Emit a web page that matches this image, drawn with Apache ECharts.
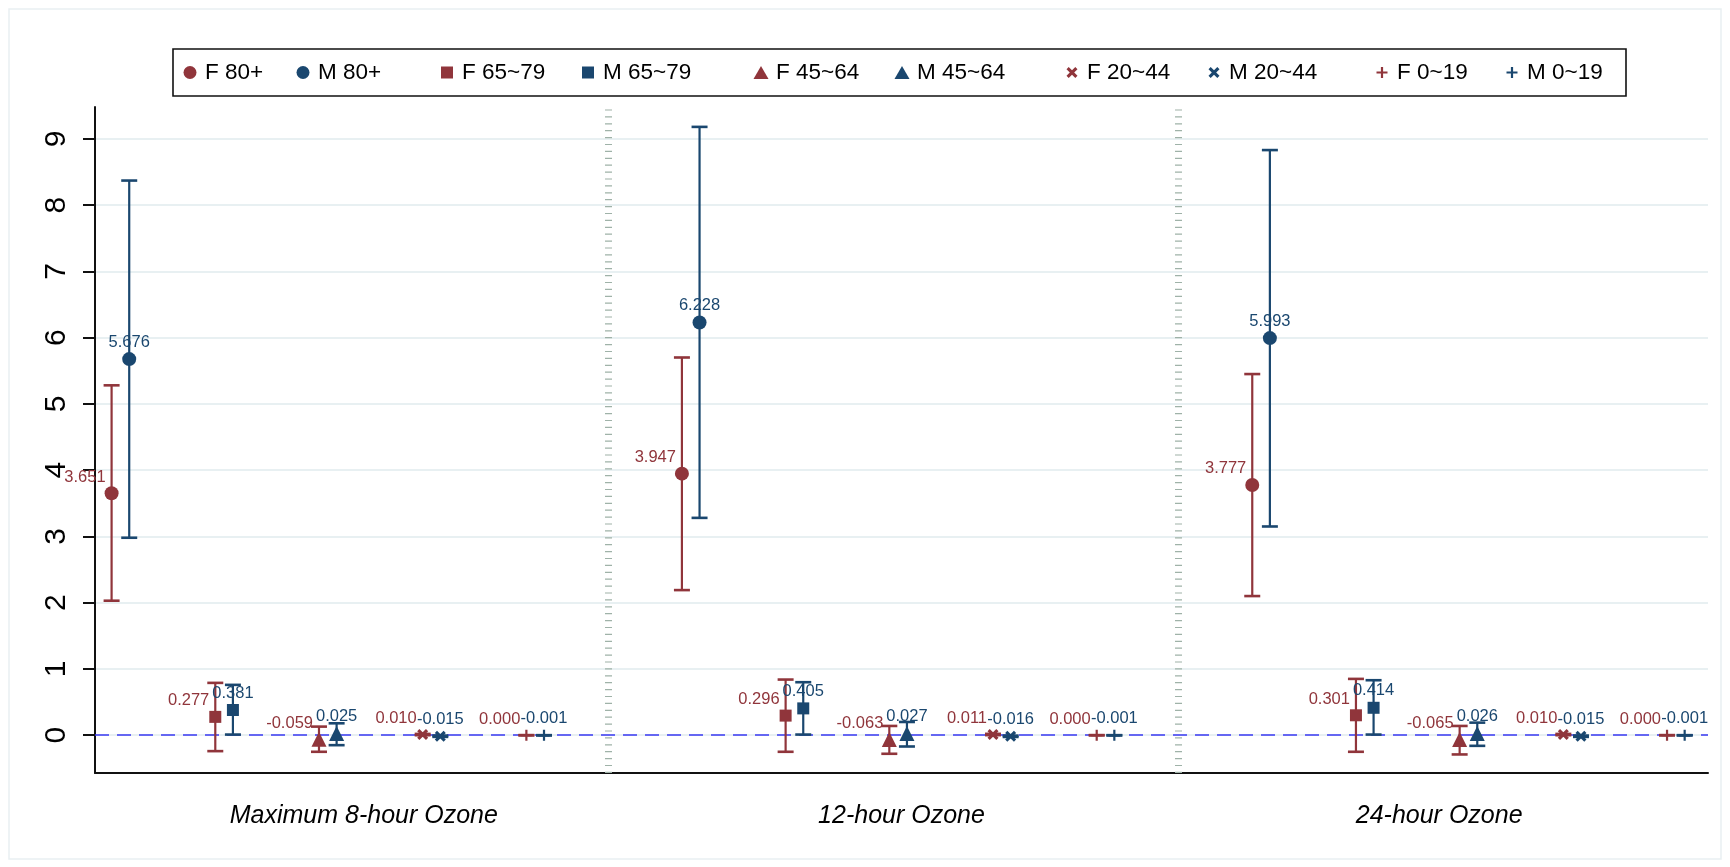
<!DOCTYPE html>
<html>
<head>
<meta charset="utf-8">
<title>Ozone effect estimates by sex and age</title>
<script src="https://cdn.jsdelivr.net/npm/echarts@6/dist/echarts.min.js"></script>
<style>
  html, body { margin: 0; padding: 0; background: #fff; }
  #chart { width: 1730px; height: 867px; }
</style>
</head>
<body>
<div id="chart"></div>
<script>
// x axis groups
const exposures = ['Maximum 8-hour Ozone', '12-hour Ozone', '24-hour Ozone'];
// sex x age groups, plotting order
const groupNames = ['F 80+', 'M 80+', 'F 65~79', 'M 65~79', 'F 45~64', 'M 45~64', 'F 20~44', 'M 20~44', 'F 0~19', 'M 0~19'];

// estimates + 95% CI, one set of arrays per exposure (order = groupNames)
const max8Est = [3.651, 5.676, 0.277, 0.381, -0.059, 0.025, 0.010, -0.015, 0.000, -0.001];
const max8Lo  = [2.03, 2.98, -0.24, 0.01, -0.25, -0.15, 0.000, -0.025, -0.002, -0.003];
const max8Hi  = [5.28, 8.37, 0.79, 0.76, 0.13, 0.18, 0.020, -0.005, 0.002, 0.001];

const h12Est = [3.947, 6.228, 0.296, 0.405, -0.063, 0.027, 0.011, -0.016, 0.000, -0.001];
const h12Lo  = [2.19, 3.28, -0.25, 0.01, -0.28, -0.17, 0.001, -0.026, -0.002, -0.003];
const h12Hi  = [5.70, 9.18, 0.84, 0.80, 0.14, 0.20, 0.021, -0.006, 0.002, 0.001];

const h24Est = [3.777, 5.993, 0.301, 0.414, -0.065, 0.026, 0.010, -0.015, 0.000, -0.001];
const h24Lo  = [2.10, 3.15, -0.25, 0.01, -0.29, -0.16, 0.000, -0.025, -0.002, -0.003];
const h24Hi  = [5.45, 8.83, 0.85, 0.83, 0.14, 0.19, 0.020, -0.005, 0.002, 0.001];

const yTicks = [0, 1, 2, 3, 4, 5, 6, 7, 8, 9];

const estAll = [max8Est, h12Est, h24Est];
const loAll = [max8Lo, h12Lo, h24Lo];
const hiAll = [max8Hi, h12Hi, h24Hi];

// stata s2color style
const FEMALE = '#90353b';
const MALE = '#1a476f';
const FONT = '"Liberation Sans", Arial, Helvetica, sans-serif';

const xPath = 'path://M0,2 L2,0 L5,3 L8,0 L10,2 L7,5 L10,8 L8,10 L5,7 L2,10 L0,8 L3,5 Z';
const plusPath = 'path://M4,0 L6,0 L6,4 L10,4 L10,6 L6,6 L6,10 L4,10 L4,6 L0,6 L0,4 L4,4 Z';
const symbols = ['circle', 'circle', 'rect', 'rect', 'triangle', 'triangle', xPath, xPath, plusPath, plusPath];
const symSizes = [14, 14, 12, 12, 15, 15, 11, 11, 11, 11];
const legendIcon = [[13, 13], [13, 13], [12, 12], [12, 12], [15, 13], [15, 13], [11, 11], [11, 11], [11, 11], [11, 11]];
// legend marker centres (px)
const legendX = [190, 303, 447, 588, 761, 902, 1072, 1214, 1382, 1512];

const GROUP_STEP = 5.5;   // x units between exposures
const SEX_OFF = 0.085;    // F / M dodge

function xPos(g, i) {
  const age = Math.floor(i / 2);
  const sex = i % 2;
  return g * GROUP_STEP + age + (sex ? SEX_OFF : -SEX_OFF);
}

const chart = echarts.init(document.getElementById('chart'));

const series = [];
groupNames.forEach((name, i) => {
  const isM = i % 2 === 1;
  const color = isM ? MALE : FEMALE;
  const pts = exposures.map((e, g) => [xPos(g, i), estAll[g][i], loAll[g][i], hiAll[g][i]]);

  // error bars
  series.push({
    name: name + ' CI',
    type: 'custom',
    z: 3,
    silent: true,
    data: pts.map(p => [p[0], p[2], p[3]]),
    renderItem: function (params, api) {
      const x = api.value(0);
      const lo = api.coord([x, api.value(1)]);
      const hi = api.coord([x, api.value(2)]);
      const half = 8;
      return {
        type: 'group',
        children: [
          {type: 'line', shape: {x1: lo[0], y1: lo[1], x2: hi[0], y2: hi[1]}, style: {stroke: color, lineWidth: 2.2}},
          {type: 'line', shape: {x1: lo[0] - half, y1: lo[1], x2: lo[0] + half, y2: lo[1]}, style: {stroke: color, lineWidth: 2.6}},
          {type: 'line', shape: {x1: hi[0] - half, y1: hi[1], x2: hi[0] + half, y2: hi[1]}, style: {stroke: color, lineWidth: 2.6}}
        ]
      };
    }
  });

  // point estimates
  series.push({
    name: name,
    type: 'scatter',
    z: 4,
    symbol: symbols[i],
    symbolSize: symSizes[i],
    itemStyle: {color: color, opacity: 1},
    data: pts.map(p => [p[0], p[1]]),
    label: {
      show: true,
      position: 'inside',
      align: isM ? 'center' : 'right',
      verticalAlign: 'middle',
      offset: isM ? [0, -17] : [-6, -16],
      color: color,
      fontFamily: FONT,
      fontSize: 16.5,
      formatter: p => p.value[1].toFixed(3)
    }
  });
});

// helper series: zero reference line + separators between exposures
series.push({
  name: 'ref',
  type: 'line',
  data: [],
  silent: true,
  markLine: {
    z: 1,
    silent: true,
    symbol: 'none',
    label: {show: false},
    data: [
      {yAxis: 0, lineStyle: {color: '#3a3af2', width: 1.6, type: [14, 8]}},
      {xAxis: GROUP_STEP - 0.8, lineStyle: {color: '#9fb2a8', width: 7, type: [1.2, 5.7], cap: 'butt'}},
      {xAxis: 2 * GROUP_STEP - 0.8, lineStyle: {color: '#9fb2a8', width: 7, type: [1.2, 5.7], cap: 'butt'}}
    ]
  }
});

const legends = groupNames.map((name, i) => ({
  data: [name],
  left: legendX[i] - legendIcon[i][0] / 2,
  top: 61,
  padding: 0,
  itemWidth: legendIcon[i][0],
  itemHeight: legendIcon[i][1],
  selectedMode: false,
  textStyle: {fontFamily: FONT, fontSize: 22.5, color: '#000', padding: [0, 0, 0, 10 - legendIcon[i][0] / 2]}
}));

chart.setOption({
  backgroundColor: '#fff',
  animation: false,
  legend: legends,
  graphic: [
    {type: 'rect', shape: {x: 9, y: 9, width: 1712, height: 850}, style: {fill: 'none', stroke: '#e9f0f2', lineWidth: 1.5}, z: -1},
    {type: 'rect', shape: {x: 173, y: 49, width: 1453, height: 47}, style: {fill: 'none', stroke: '#111', lineWidth: 1.6}}
  ],
  grid: {left: 95, right: 22, top: 107, bottom: 94},
  xAxis: [
    {
      type: 'value',
      min: -0.245,
      max: 15.31,
      axisLine: {show: true, onZero: false, lineStyle: {color: '#111', width: 2}},
      axisTick: {show: false},
      axisLabel: {show: false},
      splitLine: {show: false}
    },
    {
      type: 'category',
      position: 'bottom',
      data: exposures,
      axisLine: {show: false},
      axisTick: {show: false},
      axisLabel: {fontFamily: FONT, fontSize: 25, fontStyle: 'italic', color: '#000', margin: 31},
      splitLine: {show: false}
    }
  ],
  yAxis: {
    type: 'value',
    min: -0.57,
    max: 9.48,
    axisLine: {show: true, onZero: false, lineStyle: {color: '#111', width: 2}},
    axisTick: {show: true, customValues: yTicks, length: 12, lineStyle: {color: '#111', width: 2}},
    axisLabel: {customValues: yTicks, rotate: 90, fontFamily: FONT, fontSize: 30, color: '#000', margin: 23},
    splitLine: {show: true, lineStyle: {color: '#e8f0f2', width: 2}}
  },
  series: series
});
</script>
</body>
</html>
